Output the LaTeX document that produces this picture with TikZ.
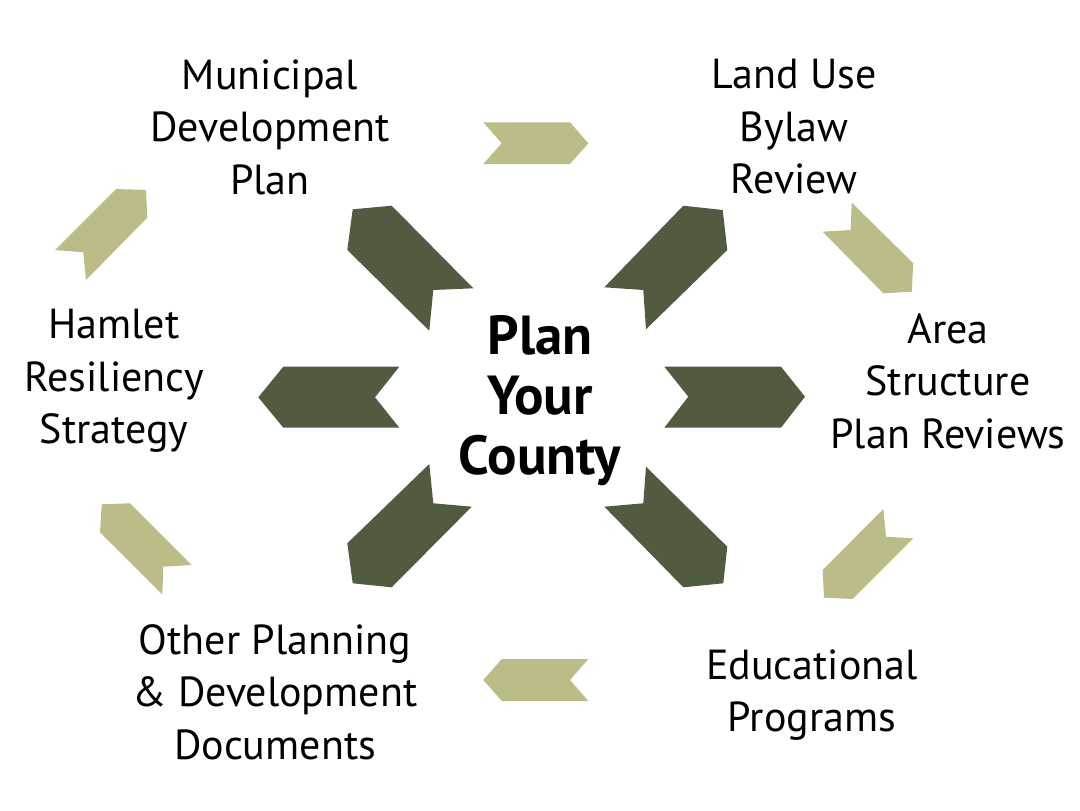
\documentclass[tikz,border=0pt]{standalone}
\usepackage{fontspec}
\setmainfont{PT Sans}
\definecolor{darkolive}{RGB}{81,91,63}
\definecolor{lightolive}{RGB}{188,188,136}
\begin{document}
\begin{tikzpicture}[x=1pt,y=-1pt,
  darkchev/.style={fill=darkolive,draw=none},
  lightchev/.style={fill=lightolive,draw=none},
  label/.style={align=center,font=\fontsize{42}{52.5}\selectfont,inner sep=0pt},
  hub/.style={align=center,font=\bfseries\fontsize{55}{60}\selectfont,inner sep=0pt}]
\useasboundingbox[fill=white] (0,0) rectangle (1080,811);
% dark chevrons
\fill[darkchev] (352.7,209.3) -- (391.7,205.7) -- (473.3,288.3) -- (433.3,290) -- (429.3,330.7) -- (347.3,250) -- cycle;
\fill[darkchev] (683.3,205.7) -- (722.7,210) -- (727.3,250) -- (646,329.3) -- (643.3,290) -- (604.3,287.3) -- cycle;
\fill[darkchev] (283.3,366.7) -- (399.3,366.7) -- (375,397.3) -- (399.3,427.7) -- (283.3,427.7) -- (258.3,397.3) -- cycle;
\fill[darkchev] (664.3,366.7) -- (781,366.7) -- (805,396.7) -- (781,427.7) -- (664.3,427.7) -- (688.3,396.7) -- cycle;
\fill[darkchev] (429.3,464) -- (433.3,503.3) -- (471.7,506.7) -- (391.7,587.3) -- (352.7,583.3) -- (347.3,543.3) -- cycle;
\fill[darkchev] (604.3,506.7) -- (643.3,503.3) -- (646,466.7) -- (727.3,546.7) -- (723.3,583.3) -- (683.3,587.3) -- cycle;
% light chevrons
\fill[lightchev] (483.3,122.3) -- (570,122.3) -- (588.3,143.3) -- (570,164) -- (483.3,164) -- (501.7,143.3) -- cycle;
\fill[lightchev] (851.7,202.7) -- (913.3,263.3) -- (911.7,291.7) -- (883.3,293.3) -- (822.7,231.7) -- (850.7,230) -- cycle;
\fill[lightchev] (883.3,509) -- (886,536.7) -- (913.3,538.3) -- (852.7,599) -- (824,597.7) -- (822.7,570) -- cycle;
\fill[lightchev] (501.7,659) -- (588.3,659) -- (570,680) -- (588.3,701) -- (501.7,701) -- (483.3,680) -- cycle;
\fill[lightchev] (101.7,504.3) -- (130,503.3) -- (191.7,565) -- (163.3,566.7) -- (162.3,594.3) -- (100,532.3) -- cycle;
\fill[lightchev] (116,189) -- (146,190) -- (147.3,217.7) -- (86,280) -- (83.3,252.3) -- (55,250) -- cycle;
% labels
\node[hub] (center) at (540,401) {Plan\\Your\\County};
\node[label] (mdp) at (270,127) {Municipal\\Development\\Plan};
\node[label] (lub) at (794,127) {Land Use\\Bylaw\\Review};
\node[label] (asp) at (948,381) {Area\\Structure\\Plan Reviews};
\node[label] (edu) at (812,695) {Educational\\Programs};
\node[label] (other) at (275,692) {Other Planning\\\& Development\\Documents};
\node[label] (hamlet) at (114,381) {Hamlet\\Resiliency\\Strategy};
\end{tikzpicture}
\end{document}
